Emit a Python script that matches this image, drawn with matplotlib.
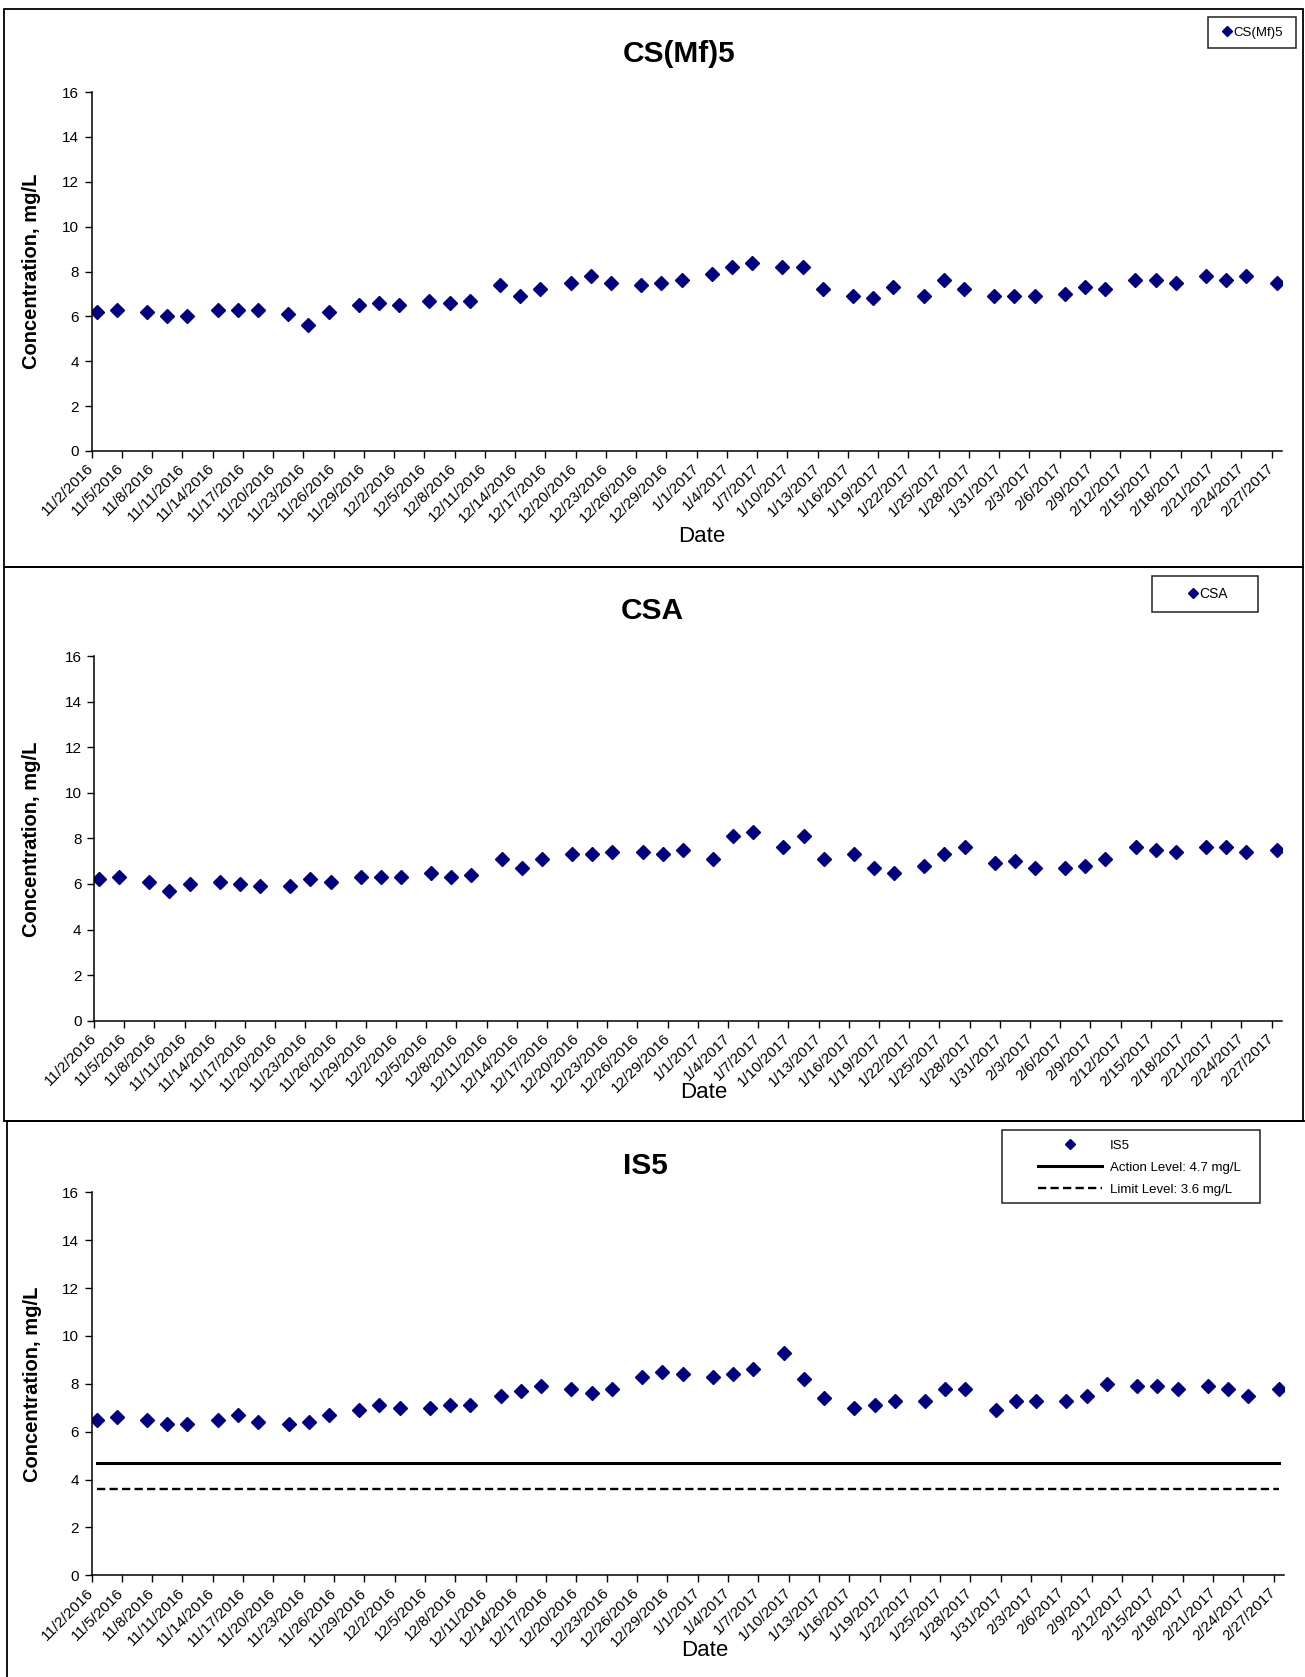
import numpy as np
import pandas as pd
import matplotlib
matplotlib.use("Agg")
import matplotlib.pyplot as plt
from matplotlib.patches import Rectangle
from matplotlib.lines import Line2D

plt.rcParams['font.family'] = ['Liberation Sans', 'DejaVu Sans']

# sampling dates (Mon / Wed / Fri)
dates = ["2016-11-02", "2016-11-04", "2016-11-07", "2016-11-09", "2016-11-11",
         "2016-11-14", "2016-11-16", "2016-11-18", "2016-11-21", "2016-11-23",
         "2016-11-25", "2016-11-28", "2016-11-30", "2016-12-02", "2016-12-05",
         "2016-12-07", "2016-12-09", "2016-12-12", "2016-12-14", "2016-12-16",
         "2016-12-19", "2016-12-21", "2016-12-23", "2016-12-26", "2016-12-28",
         "2016-12-30", "2017-01-02", "2017-01-04", "2017-01-06", "2017-01-09",
         "2017-01-11", "2017-01-13", "2017-01-16", "2017-01-18", "2017-01-20",
         "2017-01-23", "2017-01-25", "2017-01-27", "2017-01-30", "2017-02-01",
         "2017-02-03", "2017-02-06", "2017-02-08", "2017-02-10", "2017-02-13",
         "2017-02-15", "2017-02-17", "2017-02-20", "2017-02-22", "2017-02-24",
         "2017-02-27"]

cs_mf5 = [6.2, 6.3, 6.2, 6.0, 6.0, 6.3, 6.3, 6.3, 6.1, 5.6, 6.2, 6.5, 6.6, 6.5,
          6.7, 6.6, 6.7, 7.4, 6.9, 7.2, 7.5, 7.8, 7.5, 7.4, 7.5, 7.6,
          7.9, 8.2, 8.4, 8.2, 8.2, 7.2, 6.9, 6.8, 7.3, 6.9, 7.6, 7.2, 6.9, 6.9,
          6.9, 7.0, 7.3, 7.2, 7.6, 7.6, 7.5, 7.8, 7.6, 7.8, 7.5]

csa = [6.2, 6.3, 6.1, 5.7, 6.0, 6.1, 6.0, 5.9, 5.9, 6.2, 6.1, 6.3, 6.3, 6.3,
       6.5, 6.3, 6.4, 7.1, 6.7, 7.1, 7.3, 7.3, 7.4, 7.4, 7.3, 7.5,
       7.1, 8.1, 8.3, 7.6, 8.1, 7.1, 7.3, 6.7, 6.5, 6.8, 7.3, 7.6, 6.9, 7.0,
       6.7, 6.7, 6.8, 7.1, 7.6, 7.5, 7.4, 7.6, 7.6, 7.4, 7.5]

is5 = [6.5, 6.6, 6.5, 6.3, 6.3, 6.5, 6.7, 6.4, 6.3, 6.4, 6.7, 6.9, 7.1, 7.0,
       7.0, 7.1, 7.1, 7.5, 7.7, 7.9, 7.8, 7.6, 7.8, 8.3, 8.5, 8.4,
       8.3, 8.4, 8.6, 9.3, 8.2, 7.4, 7.0, 7.1, 7.3, 7.3, 7.8, 7.8, 6.9, 7.3,
       7.3, 7.3, 7.5, 8.0, 7.9, 7.9, 7.8, 7.9, 7.8, 7.5, 7.8]

action_level = 4.7
limit_level = 3.6

W, H = 1305, 1677
fig = plt.figure(figsize=(W / 100, H / 100), dpi=100)

# excel puts each point in the middle of its day
x = pd.to_datetime(dates) + pd.Timedelta(hours=12)
tick_dates = pd.date_range("2016-11-02", "2017-02-27", freq="3D")
tick_labels = [f"{d.month}/{d.day}/{d.year}" for d in tick_dates]
navy = "#000080"
dash = (0, (3.5, 1.8))


def fx(px):
    return px / W


def fy(py):
    return 1 - py / H


def box(x0, y0, x1, y1, lw=1.3, ec="black"):
    fig.patches.append(Rectangle((fx(x0), fy(y1)), fx(x1) - fx(x0), fy(y0) - fy(y1),
                                 transform=fig.transFigure, fill=False, ec=ec, lw=lw,
                                 clip_on=False))


def panel(rect, vals, title, title_xy, ylab_xy, date_xy):
    l, t, r, b = rect
    ax = fig.add_axes([fx(l), fy(b), fx(r) - fx(l), fy(t) - fy(b)])
    ax.plot(x, vals, ls="none", marker="D", ms=7.0, color=navy, mec=navy)
    ax.set_xlim(pd.Timestamp("2016-11-02"), pd.Timestamp("2017-02-28"))
    ax.set_ylim(0, 16)
    ax.set_yticks(np.arange(0, 17, 2))
    ax.set_xticks(tick_dates)
    ax.set_xticklabels(tick_labels, rotation=45, ha="right", va="center",
                       rotation_mode="anchor", fontsize=11)
    ax.tick_params(axis="y", labelsize=11, length=5, width=1, pad=4)
    ax.tick_params(axis="x", length=5, width=1, pad=6)
    for s in ["top", "right"]:
        ax.spines[s].set_visible(False)
    for s in ["left", "bottom"]:
        ax.spines[s].set_linewidth(1.1)
    fig.text(fx(title_xy[0]), fy(title_xy[1]), title, ha="center", va="baseline",
             fontsize=21.5, fontweight="bold")
    fig.text(fx(ylab_xy[0]), fy(ylab_xy[1]), "Concentration, mg/L", rotation=90,
             ha="center", va="center", fontsize=14.5, fontweight="bold")
    fig.text(fx(date_xy[0]), fy(date_xy[1]), "Date", ha="center", va="center",
             fontsize=16)
    return ax


# panel borders
box(4, 8.5, 1302.5, 566.7)
box(4, 566.7, 1303, 1121)
box(7, 1121, 1320, 1700)

ax1 = panel((91.5, 92, 1281.6, 451), cs_mf5, "CS(Mf)5", (679, 62.5), (32, 271), (702, 537))
ax2 = panel((94, 656, 1281.6, 1020.7), csa, "CSA", (652, 619), (32, 839), (704, 1092))
ax3 = panel((91.5, 1192.4, 1283.7, 1575.2), is5, "IS5", (645, 1174), (33, 1384), (705, 1650))

ax3.plot([x[0], x[-1]], [action_level, action_level], color="black", lw=2.2)
ax3.plot([x[0], x[-1]], [limit_level, limit_level], color="black", lw=1.7, ls=dash)

# legends
mk = dict(ls="none", marker="D", color=navy, mec=navy, ms=5.2)
box(1208, 17, 1296, 48, lw=1.1, ec="#222222")
fig.legend([Line2D([], [], **mk)], ["CS(Mf)5"], loc="center",
           bbox_to_anchor=(fx(1253), fy(32.5)), frameon=False, fontsize=9.5,
           handlelength=0.6, handletextpad=0.15, borderpad=0)

box(1152, 576, 1258, 612, lw=1.1, ec="#222222")
fig.legend([Line2D([], [], **mk)], ["CSA"], loc="center",
           bbox_to_anchor=(fx(1208), fy(594)), frameon=False, fontsize=10,
           handlelength=0.6, handletextpad=0.15, borderpad=0)

box(1002, 1130, 1260, 1203, lw=1.1, ec="#222222")
handles = [Line2D([], [], **mk),
           Line2D([], [], color="black", lw=2.2),
           Line2D([], [], color="black", lw=1.7, ls=dash)]
fig.legend(handles, ["IS5", "Action Level: 4.7 mg/L", "Limit Level: 3.6 mg/L"],
           loc="upper left", bbox_to_anchor=(fx(1031), fy(1133)), frameon=False,
           fontsize=9.5, handlelength=4.9, handletextpad=0.55, labelspacing=0.75,
           borderpad=0)

fig.savefig("out.png", dpi=100)
